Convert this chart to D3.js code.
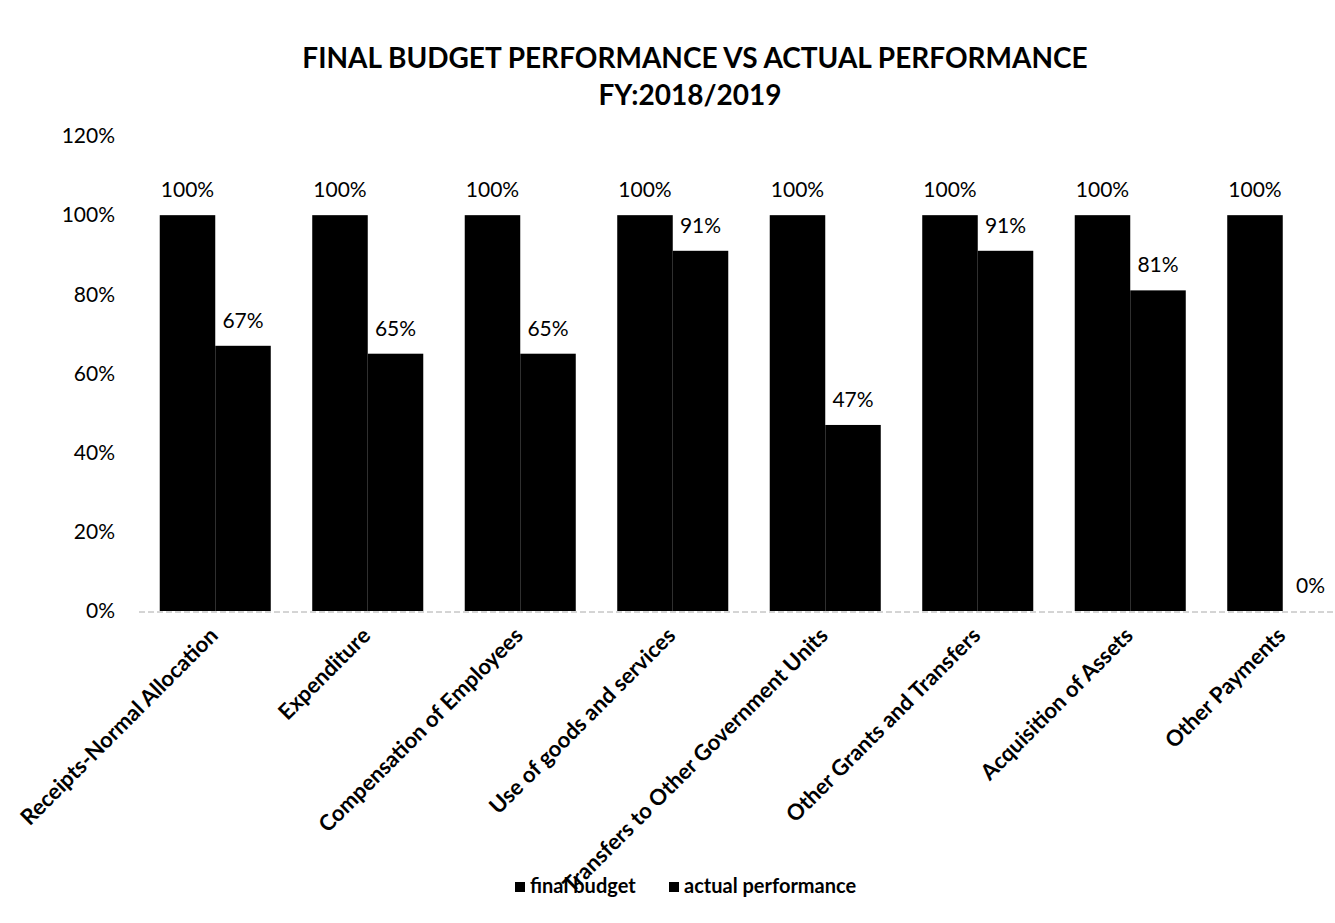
<!DOCTYPE html>
<html>
<head>
<meta charset="utf-8">
<script src="https://cdn.jsdelivr.net/npm/d3@7"></script>
<style>
  html, body { margin: 0; padding: 0; background: #fff; }
  svg { display: block; font-family: Lato, "Open Sans", sans-serif; }
</style>
</head>
<body>
<div id="chart"></div>
<script>
const categories = [
  'Receipts-Normal Allocation',
  'Expenditure',
  'Compensation of Employees',
  'Use of goods and services',
  'Transfers to Other Government Units',
  'Other Grants and Transfers',
  'Acquisition of Assets',
  'Other Payments'
];
const finalBudget = [100, 100, 100, 100, 100, 100, 100, 100];
const actualPerformance = [67, 65, 65, 91, 47, 91, 81, 0];
const seriesNames = ['final budget', 'actual performance'];
const yTicks = [0, 20, 40, 60, 80, 100, 120];

const width = 1335, height = 923;
const margin = { top: 136, left: 139, bottom: 312 };
const plotRight = 1359; // plot runs past the right edge of the page, as in the scan

const svg = d3.select('#chart').append('svg')
  .attr('width', width)
  .attr('height', height);

const x = d3.scaleBand()
  .domain(categories)
  .range([margin.left, plotRight])
  .paddingInner(0.272)
  .paddingOuter(0.136);

const xs = d3.scaleBand()
  .domain(seriesNames)
  .range([0, x.bandwidth()]);

const y = d3.scaleLinear()
  .domain([0, 120])
  .range([height - margin.bottom, margin.top]);

// title
svg.append('text')
  .attr('x', 695).attr('y', 68)
  .attr('text-anchor', 'middle')
  .style('font-weight', 'bold').style('font-size', '28px')
  .text('FINAL BUDGET PERFORMANCE VS ACTUAL PERFORMANCE');
svg.append('text')
  .attr('x', 690).attr('y', 105)
  .attr('text-anchor', 'middle')
  .style('font-weight', 'bold').style('font-size', '28px')
  .text('FY:2018/2019');

// y axis labels
const yAxis = svg.append('g')
  .attr('transform', `translate(${margin.left - 24},0)`)
  .call(d3.axisLeft(y).tickValues(yTicks).tickFormat(d => d + '%').tickSize(0).tickPadding(0));
yAxis.select('.domain').remove();
yAxis.selectAll('text').style('font-size', '21px').style('font-family', 'Lato, sans-serif').attr('fill', '#000');

// baseline
svg.append('line')
  .attr('x1', margin.left).attr('x2', width)
  .attr('y1', y(0) + 1).attr('y2', y(0) + 1)
  .attr('stroke', '#aaa').attr('stroke-width', 1)
  .attr('stroke-dasharray', '6,3');

const rows = categories.map((c, i) => ({
  name: c,
  values: [
    { series: seriesNames[0], value: finalBudget[i] },
    { series: seriesNames[1], value: actualPerformance[i] }
  ]
}));

const groups = svg.append('g')
  .selectAll('g')
  .data(rows)
  .join('g')
  .attr('transform', d => `translate(${x(d.name)},0)`);

groups.selectAll('rect')
  .data(d => d.values)
  .join('rect')
  .attr('x', d => xs(d.series))
  .attr('y', d => y(d.value))
  .attr('width', xs.bandwidth())
  .attr('height', d => y(0) - y(d.value))
  .attr('fill', '#000');

groups.selectAll('text.value')
  .data(d => d.values)
  .join('text')
  .attr('class', 'value')
  .attr('x', d => xs(d.series) + xs.bandwidth() / 2)
  .attr('y', d => y(d.value) - 18)
  .attr('text-anchor', 'middle')
  .style('font-size', '21px')
  .text(d => `${d.value}%`);

// category labels
svg.append('g')
  .selectAll('text')
  .data(categories)
  .join('text')
  .attr('transform', d => `translate(${x(d) + x.bandwidth() / 2 + 4},${y(0) + 26}) rotate(-45)`)
  .attr('text-anchor', 'end')
  .style('font-size', '22px')
  .style('font-weight', 'bold')
  .text(d => d);

// legend
const legend = svg.append('g')
  .selectAll('g')
  .data(seriesNames)
  .join('g')
  .attr('transform', (d, i) => `translate(${i === 0 ? 515 : 669},887)`);
legend.append('rect')
  .attr('x', 0).attr('y', -5)
  .attr('width', 10).attr('height', 10)
  .attr('fill', '#000');
legend.append('text')
  .attr('x', 15).attr('y', 6)
  .style('font-size', '20px')
  .style('font-weight', 'bold')
  .text(d => d);
</script>
</body>
</html>
